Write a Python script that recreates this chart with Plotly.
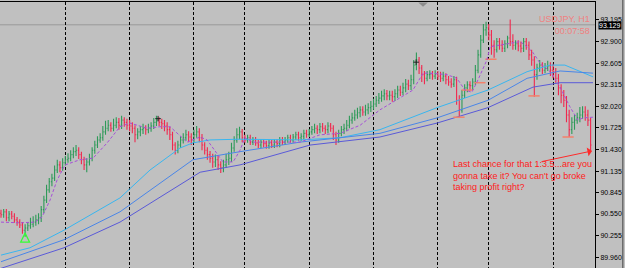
import plotly.graph_objects as go

# ---------------- data (USDJPY H1) ----------------
bar_index = list(range(221))

closes = [
    90.54, 90.58, 90.50, 90.55, 90.52, 90.47, 90.44, 90.40, 90.33, 90.36, 90.39, 90.41, 90.44, 90.47, 90.50, 90.61, 90.74, 90.88, 90.99, 91.04, 91.15, 91.22, 91.18, 91.25,
    91.29, 91.31, 91.36, 91.40, 91.42, 91.36, 91.29, 91.22, 91.26, 91.31, 91.42, 91.49, 91.56, 91.59, 91.67, 91.72, 91.76, 91.72, 91.76, 91.80, 91.76, 91.83, 91.80, 91.76,
    91.75, 91.72, 91.63, 91.67, 91.70, 91.72, 91.70, 91.72, 91.75, 91.80, 91.83, 91.80, 91.78, 91.75, 91.70, 91.63, 91.49, 91.42, 91.49, 91.56, 91.59, 91.63, 91.60, 91.56,
    91.63, 91.67, 91.59, 91.49, 91.42, 91.36, 91.31, 91.26, 91.29, 91.22, 91.18, 91.22, 91.29, 91.31, 91.45, 91.56, 91.63, 91.67, 91.59,
    91.56, 91.59, 91.53, 91.56, 91.52, 91.49, 91.53, 91.51, 91.48, 91.52, 91.49, 91.53, 91.51, 91.56, 91.53, 91.56, 91.59, 91.56, 91.60, 91.63, 91.59, 91.61, 91.65, 91.63,
    91.67, 91.70, 91.72, 91.70, 91.74, 91.72, 91.70, 91.75, 91.72, 91.63, 91.56, 91.65, 91.70, 91.72, 91.76, 91.83, 91.86, 91.90, 91.93, 91.97, 91.94, 91.97, 92.00, 92.02,
    92.05, 92.10, 92.13, 92.16, 92.19, 92.16, 92.17, 92.15, 92.19, 92.24, 92.21, 92.27, 92.32, 92.30, 92.38, 92.58, 92.65, 92.54, 92.45, 92.40, 92.45, 92.46, 92.43, 92.46,
    92.43, 92.40, 92.43, 92.38, 92.35, 92.32, 92.38, 92.10, 91.97, 92.17, 92.27, 92.31, 92.30, 92.35, 92.51, 92.72, 92.92, 93.06, 93.09,
    92.99, 92.85, 92.79, 92.90, 92.85, 92.81, 92.87, 92.95, 92.90, 92.85, 92.87, 92.84, 92.81, 92.90, 92.85, 92.72, 92.65, 92.45, 92.54, 92.58, 92.51, 92.54, 92.57, 92.51,
    92.49, 92.40, 92.27, 92.17, 92.10, 91.90, 91.70, 91.80, 91.83, 91.86, 91.90, 91.94, 91.90, 91.83, 91.49,
]

opens = [
    90.56, 90.54, 90.58, 90.50, 90.55, 90.52, 90.47, 90.44, 90.40, 90.33, 90.36, 90.39, 90.41, 90.44, 90.47, 90.50, 90.61, 90.74, 90.88, 90.99, 91.04, 91.15, 91.22, 91.18,
    91.25, 91.29, 91.31, 91.36, 91.40, 91.42, 91.36, 91.29, 91.22, 91.26, 91.31, 91.42, 91.49, 91.56, 91.59, 91.67, 91.72, 91.76, 91.72, 91.76, 91.80, 91.76, 91.83, 91.80,
    91.76, 91.75, 91.72, 91.63, 91.67, 91.70, 91.72, 91.70, 91.72, 91.75, 91.80, 91.83, 91.80, 91.78, 91.75, 91.70, 91.63, 91.49, 91.42, 91.49, 91.56, 91.59, 91.63, 91.60,
    91.56, 91.63, 91.67, 91.59, 91.49, 91.42, 91.36, 91.31, 91.26, 91.29, 91.22, 91.18, 91.22, 91.29, 91.31, 91.45, 91.56, 91.63, 91.67,
    91.59, 91.56, 91.59, 91.53, 91.56, 91.52, 91.49, 91.53, 91.51, 91.48, 91.52, 91.49, 91.53, 91.51, 91.56, 91.53, 91.56, 91.59, 91.56, 91.60, 91.63, 91.59, 91.61, 91.65,
    91.63, 91.67, 91.70, 91.72, 91.70, 91.74, 91.72, 91.70, 91.75, 91.72, 91.63, 91.56, 91.65, 91.70, 91.72, 91.76, 91.83, 91.86, 91.90, 91.93, 91.97, 91.94, 91.97, 92.00,
    92.02, 92.05, 92.10, 92.13, 92.16, 92.19, 92.16, 92.17, 92.15, 92.19, 92.24, 92.21, 92.27, 92.32, 92.30, 92.38, 92.58, 92.65, 92.54, 92.45, 92.40, 92.45, 92.46, 92.43,
    92.46, 92.43, 92.40, 92.43, 92.38, 92.35, 92.32, 92.38, 92.10, 91.97, 92.17, 92.27, 92.31, 92.30, 92.35, 92.51, 92.72, 92.92, 93.06,
    93.09, 92.99, 92.85, 92.79, 92.90, 92.85, 92.81, 92.87, 92.95, 92.90, 92.85, 92.87, 92.84, 92.81, 92.90, 92.85, 92.72, 92.65, 92.45, 92.54, 92.58, 92.51, 92.54, 92.57,
    92.51, 92.49, 92.40, 92.27, 92.17, 92.10, 91.90, 91.70, 91.80, 91.83, 91.86, 91.90, 91.94, 91.90, 91.83,
]

highs = [
    90.61, 90.62, 90.62, 90.59, 90.59, 90.56, 90.51, 90.48, 90.44, 90.41, 90.44, 90.50, 90.52, 90.54, 90.56, 90.66, 90.80, 90.95, 91.04, 91.10, 91.21, 91.29, 91.27, 91.31,
    91.34, 91.38, 91.42, 91.46, 91.49, 91.46, 91.40, 91.33, 91.31, 91.37, 91.46, 91.55, 91.61, 91.65, 91.75, 91.82, 91.83, 91.80, 91.85, 91.87, 91.86, 91.89, 91.87, 91.85,
    91.83, 91.80, 91.76, 91.72, 91.75, 91.78, 91.76, 91.78, 91.80, 91.86, 91.89, 91.87, 91.85, 91.83, 91.80, 91.74, 91.67, 91.53, 91.55, 91.61, 91.65, 91.70, 91.68, 91.65,
    91.70, 91.75, 91.72, 91.64, 91.53, 91.46, 91.41, 91.37, 91.36, 91.34, 91.27, 91.29, 91.37, 91.40, 91.52, 91.61, 91.72, 91.74, 91.71,
    91.63, 91.63, 91.63, 91.60, 91.60, 91.56, 91.57, 91.57, 91.55, 91.56, 91.56, 91.57, 91.57, 91.60, 91.60, 91.60, 91.63, 91.63, 91.64, 91.67, 91.67, 91.65, 91.70, 91.70,
    91.71, 91.75, 91.78, 91.76, 91.79, 91.79, 91.76, 91.80, 91.79, 91.76, 91.67, 91.70, 91.75, 91.78, 91.83, 91.89, 91.93, 91.97, 92.00, 92.02, 92.02, 92.04, 92.06, 92.09,
    92.12, 92.16, 92.20, 92.23, 92.25, 92.24, 92.23, 92.23, 92.25, 92.30, 92.30, 92.34, 92.39, 92.38, 92.45, 92.65, 92.75, 92.69, 92.58, 92.50, 92.50, 92.51, 92.50, 92.51,
    92.50, 92.49, 92.49, 92.47, 92.43, 92.40, 92.43, 92.42, 92.17, 92.24, 92.32, 92.36, 92.36, 92.40, 92.58, 92.79, 92.99, 93.14, 93.17,
    93.14, 93.06, 92.92, 92.95, 92.95, 92.92, 92.92, 92.98, 93.20, 93.00, 92.92, 92.92, 92.90, 92.95, 92.95, 92.90, 92.79, 92.70, 92.60, 92.65, 92.62, 92.61, 92.64, 92.62,
    92.60, 92.54, 92.46, 92.32, 92.24, 92.16, 91.97, 91.87, 91.90, 91.93, 92.01, 92.02, 92.02, 91.97, 91.86,
]

lows = [
    90.50, 90.50, 90.45, 90.45, 90.48, 90.43, 90.39, 90.36, 90.28, 90.24, 90.32, 90.35, 90.37, 90.39, 90.41, 90.44, 90.56, 90.70, 90.84, 90.93, 91.00, 91.11, 91.12, 91.14,
    91.21, 91.25, 91.27, 91.31, 91.34, 91.30, 91.23, 91.15, 91.12, 91.21, 91.27, 91.37, 91.45, 91.52, 91.55, 91.63, 91.68, 91.67, 91.68, 91.72, 91.70, 91.71, 91.74, 91.70,
    91.68, 91.65, 91.53, 91.57, 91.61, 91.64, 91.63, 91.65, 91.67, 91.71, 91.75, 91.75, 91.71, 91.68, 91.63, 91.56, 91.42, 91.36, 91.38, 91.45, 91.51, 91.55, 91.53, 91.49,
    91.52, 91.59, 91.53, 91.42, 91.36, 91.29, 91.25, 91.18, 91.19, 91.15, 91.11, 91.12, 91.18, 91.22, 91.26, 91.40, 91.52, 91.57, 91.53,
    91.52, 91.52, 91.49, 91.49, 91.48, 91.45, 91.45, 91.46, 91.44, 91.44, 91.45, 91.45, 91.46, 91.46, 91.49, 91.49, 91.52, 91.52, 91.52, 91.56, 91.55, 91.55, 91.57, 91.59,
    91.60, 91.63, 91.65, 91.64, 91.65, 91.67, 91.64, 91.65, 91.67, 91.56, 91.49, 91.52, 91.61, 91.64, 91.68, 91.72, 91.78, 91.82, 91.85, 91.87, 91.89, 91.89, 91.91, 91.94,
    91.97, 92.01, 92.05, 92.08, 92.10, 92.10, 92.10, 92.08, 92.09, 92.13, 92.16, 92.17, 92.21, 92.24, 92.24, 92.32, 92.51, 92.46, 92.35, 92.32, 92.36, 92.39, 92.38, 92.39,
    92.38, 92.35, 92.36, 92.32, 92.30, 92.27, 92.28, 92.04, 91.87, 91.93, 92.13, 92.21, 92.23, 92.24, 92.31, 92.47, 92.68, 92.88, 92.98,
    92.92, 92.72, 92.68, 92.75, 92.79, 92.76, 92.76, 92.81, 92.84, 92.79, 92.79, 92.77, 92.75, 92.76, 92.79, 92.65, 92.57, 92.15, 92.38, 92.49, 92.46, 92.47, 92.50, 92.43,
    92.40, 92.34, 92.17, 92.06, 92.01, 91.80, 91.60, 91.64, 91.70, 91.78, 91.80, 91.85, 91.82, 91.75, 91.40,
]

# moving averages (bar index, price)
fast_ma_idx = [0, 7.1, 12.7, 15.3, 18.3, 20.9, 23.9, 29.5, 34.3, 39.6, 44.4, 48.1, 54.5, 59.3, 63.1, 65.7, 69.4, 74.3, 76.9, 79.1, 82.8, 86.6, 89.2, 91.0, 94.0, 111.6, 119.0, 126.5, 134.0, 141.4, 148.9, 153.7, 157.5, 160.1, 166.4, 170.1, 173.1, 175.7, 178.0, 181.3, 182.5, 185.4, 189.9, 193.7, 196.3, 198.5, 201.1, 204.9, 208.6, 212.3, 215.3, 217.2, 220.9]
fast_ma = [90.44, 90.43, 90.44, 90.51, 90.74, 91.01, 91.22, 91.29, 91.31, 91.52, 91.74, 91.79, 91.72, 91.74, 91.74, 91.65, 91.53, 91.60, 91.56, 91.45, 91.26, 91.26, 91.42, 91.59, 91.53, 91.53, 91.63, 91.65, 91.76, 91.97, 92.13, 92.24, 92.47, 92.47, 92.45, 92.40, 92.24, 92.21, 92.38, 92.65, 92.83, 92.85, 92.88, 92.90, 92.83, 92.75, 92.61, 92.49, 92.28, 92.01, 91.83, 91.86, 91.87]

cyan_ma_idx = [0, 10.8, 23.5, 44.4, 55.6, 66.8, 71.6, 78.0, 89.2, 104.1, 111.6, 126.5, 141.4, 162.7, 181.7, 196.3, 204.9, 210.4, 220.9]
cyan_ma = [89.99, 90.09, 90.33, 90.77, 91.15, 91.45, 91.52, 91.56, 91.57, 91.57, 91.56, 91.59, 91.70, 92.00, 92.24, 92.49, 92.58, 92.58, 92.42]

blue_ma_idx = [0, 23.5, 44.4, 71.6, 89.2, 111.6, 141.4, 162.7, 181.7, 196.3, 208.6, 220.9]
blue_ma = [89.90, 90.20, 90.58, 91.29, 91.40, 91.53, 91.65, 91.86, 92.10, 92.40, 92.50, 92.47]

slow_ma_idx = [0, 23.5, 44.4, 74.3, 89.2, 115.3, 141.4, 162.7, 181.7, 198.5, 208.6, 220.9]
slow_ma = [89.81, 90.09, 90.44, 91.12, 91.22, 91.49, 91.60, 91.79, 92.00, 92.28, 92.34, 92.34]

# short salmon level ticks and small black cross marks seen on the chart
level_idx = [170.9, 173.9, 178.7, 182.8, 198.9, 211.6]
level_price = [91.87, 92.24, 92.34, 92.66, 92.16, 91.60]
cross_idx = [58.6, 154.9]
cross_price = [91.85, 92.62]

day_starts = [0, 24, 48, 72, 91, 115, 139, 163, 182, 206]

price_ticks = [93.195, 92.900, 92.605, 92.315, 92.020, 91.725, 91.430, 91.135, 90.845, 90.550, 90.255, 89.960]
price_labels = ["93.195", "92.900", "92.605", "92.315", "92.020", "91.725", "91.430", "91.135", "90.845", "90.550", "90.255", "89.960"]

current_price = 93.129
signal_bar = 9
signal_price = 90.29

# ---------------- figure ----------------
fig = go.Figure()

fig.add_trace(go.Scatter(x=cyan_ma_idx, y=cyan_ma, mode="lines",
                         line=dict(color="#38b6f0", width=1), hoverinfo="skip"))
fig.add_trace(go.Scatter(x=blue_ma_idx, y=blue_ma, mode="lines",
                         line=dict(color="#4a86e8", width=1), hoverinfo="skip"))
fig.add_trace(go.Scatter(x=slow_ma_idx, y=slow_ma, mode="lines",
                         line=dict(color="#5a5ad8", width=1), hoverinfo="skip"))

fig.add_trace(go.Ohlc(
    x=bar_index, open=opens, high=highs, low=lows, close=closes,
    increasing=dict(line=dict(color="#2e9a58", width=1.1)),
    decreasing=dict(line=dict(color="#f0284e", width=1.1)),
    tickwidth=0.35, hoverinfo="skip"))

fig.add_trace(go.Scatter(x=level_idx, y=level_price, mode="markers",
                         marker=dict(symbol="line-ew", size=8, color="#f4806a",
                                     line=dict(color="#f4806a", width=1.5)),
                         hoverinfo="skip"))

fig.add_trace(go.Scatter(x=cross_idx, y=cross_price, mode="markers",
                         marker=dict(symbol="cross-thin", size=4, color="#202020",
                                     line=dict(color="#202020", width=1)),
                         hoverinfo="skip"))

fig.add_trace(go.Scatter(x=fast_ma_idx, y=fast_ma, mode="lines",
                         line=dict(color="#a64fd8", width=1, dash="3px,2px"), hoverinfo="skip"))

fig.add_trace(go.Scatter(x=[signal_bar], y=[signal_price], mode="markers",
                         marker=dict(symbol="arrow-up-open", size=9, color="#33ff33",
                                     line=dict(color="#33ff33", width=1.2)),
                         hoverinfo="skip"))

# current price line
fig.add_shape(type="line", xref="paper", x0=0, x1=1, yref="y", y0=current_price, y1=current_price,
              line=dict(color="#9a9a9a", width=1), layer="below")
# window border right of the axis
fig.add_shape(type="line", xref="paper", x0=1.0468, x1=1.0468, yref="paper", y0=-0.01, y1=1.01,
              line=dict(color="#404040", width=1))
# chart-shift marker
fig.add_shape(type="path", xref="paper", yref="paper",
              path="M 0.703 0.998 L 0.719 0.998 L 0.711 0.982 Z",
              fillcolor="#8c8c8c", line=dict(width=0))

fig.add_annotation(xref="paper", yref="y", x=1, y=current_price, xanchor="left", yanchor="middle",
                   xshift=3, yshift=-1, text="93.129", showarrow=False,
                   font=dict(family="Liberation Sans", size=7, color="white"),
                   bgcolor="black", borderpad=0)

fig.add_annotation(xref="paper", yref="paper", x=0.995, y=0.962, xanchor="right", yanchor="top",
                   text="USDJPY, H1<br>00:07:58", showarrow=False, align="right",
                   font=dict(family="Liberation Sans", size=9, color="#f08080"))

fig.add_annotation(xref="paper", yref="paper", x=0.758, y=0.417, xanchor="left", yanchor="top",
                   text="Last chance for that 1:3.5...are you<br>gonna take it? You can't go broke<br>taking profit right?",
                   showarrow=False, align="left",
                   font=dict(family="Liberation Sans", size=9, color="#ff1a1a"))

fig.add_annotation(xref="paper", yref="paper", x=0.995, y=0.44, ax=-52, ay=11,
                   text="", showarrow=True, arrowhead=1, arrowsize=1.5, arrowwidth=1,
                   arrowcolor="#ff2a2a")

fig.update_layout(
    width=625, height=268,
    margin=dict(l=0, r=30, t=2, b=0),
    paper_bgcolor="#c0c0c0", plot_bgcolor="#c0c0c0",
    showlegend=False,
    xaxis=dict(range=[-0.373, 221.64], tickvals=day_starts, showticklabels=False,
               showgrid=True, gridcolor="#000000", griddash="3px,2px", gridwidth=1,
               zeroline=False, rangeslider=dict(visible=False), side="top",
               showline=True, linecolor="black", linewidth=1, ticks=""),
    yaxis=dict(range=[89.8145, 93.440], side="right", tickvals=price_ticks, ticktext=price_labels,
               showgrid=False, zeroline=False, ticks="outside", ticklen=3, tickcolor="black",
               showline=True, linecolor="black", linewidth=1,
               tickfont=dict(family="Liberation Sans", size=7, color="black")),
)

fig.write_html("out.html")
